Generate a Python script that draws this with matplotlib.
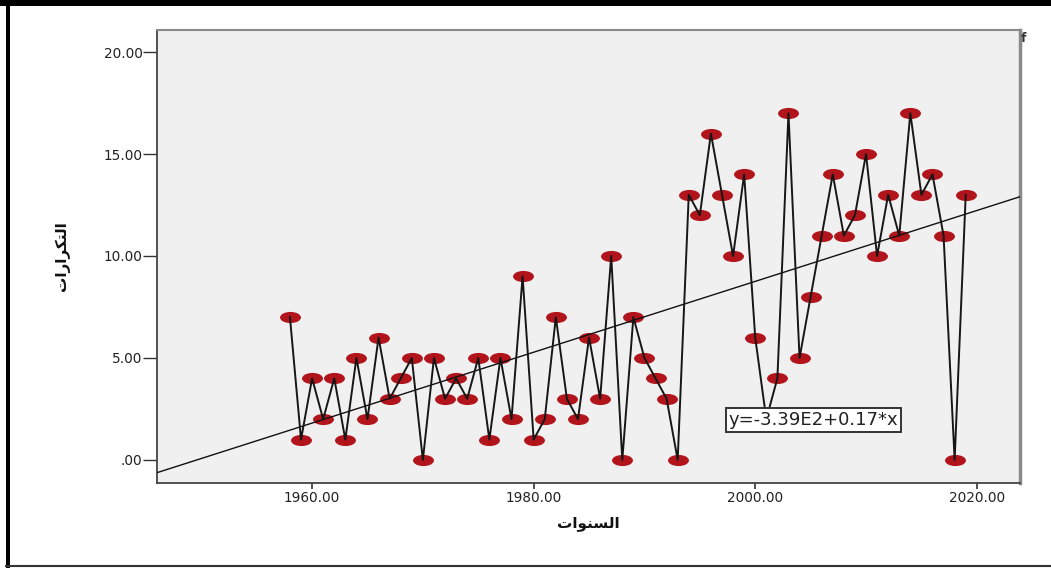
import numpy as np
import matplotlib
matplotlib.use("Agg")
import matplotlib.pyplot as plt
from matplotlib.markers import MarkerStyle
from matplotlib.transforms import Affine2D
from matplotlib.lines import Line2D
from matplotlib.patches import Rectangle
from matplotlib.ticker import FuncFormatter

# Yearly frequencies
years = list(range(1958, 2020))
counts = [7, 1, 4, 2, 4, 1, 5, 2, 6, 3, 4, 5,
          0, 5, 3, 4, 3, 5, 1, 5, 2, 9,
          1, 2, 7, 3, 2, 6, 3, 10, 0, 7,
          5, 4, 3, 0, 13, 12, 16, 13, 10, 14,
          6, 2, 4, 17, 5, 8, 11, 14, 11, 12,
          15, 10, 13, 11, 17, 13, 14, 11, 0, 13]
x_ticks = [1960, 1980, 2000, 2020]
y_ticks = [0, 5, 10, 15, 20]

# Arabic labels in shaped (presentation) forms, visual order
x_label = "\uFE95\uFE8D\uFEEE\uFEE8\uFEB4\uFEDF\uFE8D"            # السنوات
y_label = "\uFE95\uFE8D\uFEAD\uFE8D\uFEAE\uFEDC\uFE98\uFEDF\uFE8D"  # التكرارات

plt.rcParams['font.family'] = ['DejaVu Sans']

W, H = 1051, 568
fig = plt.figure(figsize=(W / 100, H / 100), dpi=100)
fig.patch.set_facecolor('white')

ax = fig.add_axes([157 / W, 1 - 483 / H, (1020 - 157) / W, (483 - 30) / H])
ax.set_facecolor('#f0f0f0')
ax.set_xlim(1946.0, 2023.9)
ax.set_ylim(-1.13, 21.08)

# Linear trend fitted to the yearly counts
slope, intercept = np.polyfit(years, counts, 1)
xl = np.array(ax.get_xlim())
ax.plot(xl, intercept + slope * xl, color='#111111', lw=1.0, zorder=3)

# Observations: horizontal ellipse markers joined by a black line
ell = MarkerStyle('o', transform=Affine2D().scale(2.0, 1.0))
ax.plot(years, counts, linestyle='none', marker=ell, markersize=7.0,
        markerfacecolor='#b2141c', markeredgecolor='#b2141c', zorder=2)
ax.plot(years, counts, color='#161616', lw=1.4, zorder=4)


def sci(v):
    e = int(np.floor(np.log10(abs(v))))
    return f"{v / 10 ** e:.2f}E{e}"


eq = f"y={sci(intercept)}+{slope:.2f}*x"
ax.text(1997.6, 1.96, eq, ha='left', va='center', fontsize=13,
        color='#222222', zorder=6,
        bbox=dict(boxstyle='square,pad=0.15', facecolor='white',
                  edgecolor='#333333', linewidth=1.4))

ax.set_xticks(x_ticks)
ax.set_yticks(y_ticks)
ax.xaxis.set_major_formatter(FuncFormatter(lambda v, p: f"{v:.2f}"))
ax.yaxis.set_major_formatter(
    FuncFormatter(lambda v, p: ".00" if v == 0 else f"{v:.2f}"))
ax.tick_params(axis='x', length=4.5, width=1.2, color='#333333', pad=1.5,
               labelsize=9.8, labelcolor='#222222')
ax.tick_params(axis='y', length=10, width=1.0, color='#333333', pad=0.5,
               labelsize=9.8, labelcolor='#222222')

for side in ('left', 'bottom'):
    ax.spines[side].set_color('#444444')
    ax.spines[side].set_linewidth(1.3)
ax.spines['top'].set_color('#8a8a8a')
ax.spines['top'].set_linewidth(1.5)
ax.spines['right'].set_color('#8a8a8a')
ax.spines['right'].set_linewidth(2.5)

ax.set_xlabel(x_label, fontsize=11, fontweight='bold', color='#111111',
              labelpad=8)
ax.set_ylabel(y_label, fontsize=11, fontweight='bold', color='#111111',
              labelpad=24)

fig.text(1021 / W, 1 - 39 / H, "f", fontsize=9, fontweight='bold',
         color='#333333', ha='left', va='center')

# Outer frame
fig.add_artist(Rectangle((0, 1 - 6 / H), 1, 6 / H, transform=fig.transFigure,
                         facecolor='black', edgecolor='none'))
fig.add_artist(Rectangle((6 / W, 0), 4 / W, 1, transform=fig.transFigure,
                         facecolor='black', edgecolor='none'))
fig.add_artist(Line2D([6 / W, 1], [1 - 566 / H, 1 - 566 / H],
                      transform=fig.transFigure, color='#333333', lw=1.5))

fig.savefig('out.png', dpi=100)
